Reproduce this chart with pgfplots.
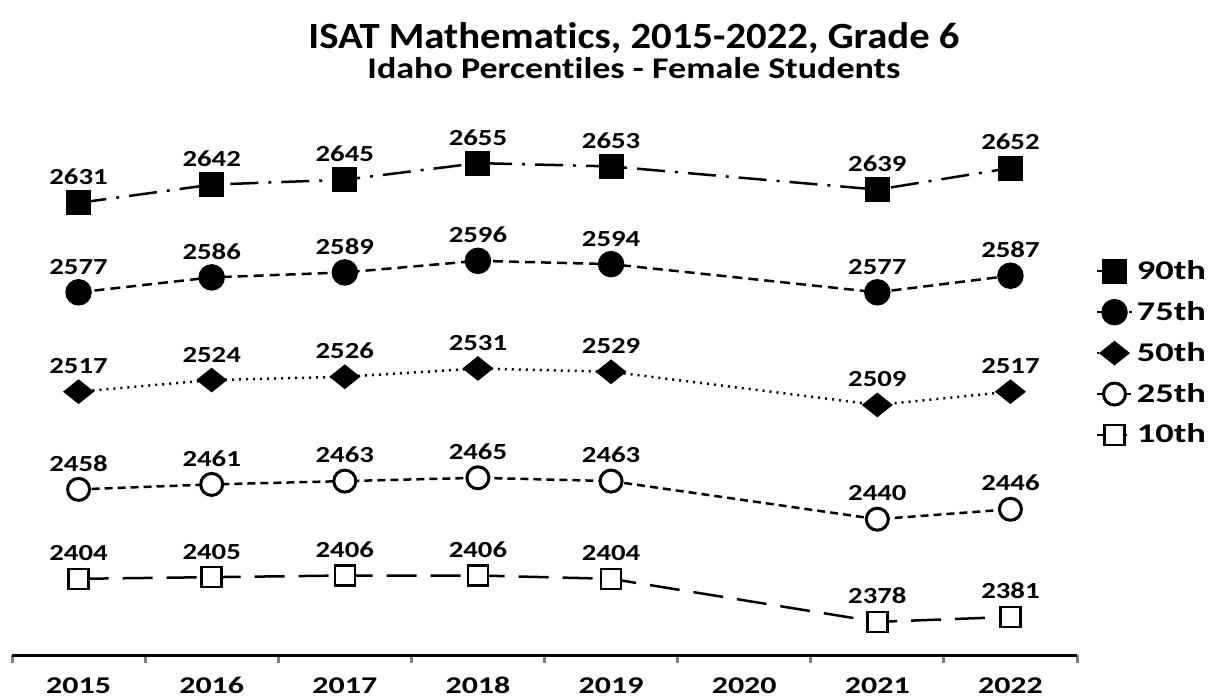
\documentclass[border=0pt]{standalone}
\usepackage{pgfplots}
\pgfplotsset{compat=1.18}
\usepackage{fontspec}
\setmainfont{Carlito}[Ligatures=NoCommon]
\newfontfamily\titleA{Carlito}[FakeStretch=1.1, Ligatures=NoCommon]
\newfontfamily\titleB{Carlito}[FakeStretch=1.2, Ligatures=NoCommon]
\newfontfamily\lblfont{Carlito}[FakeStretch=1.25]
\newfontfamily\tickfont{Carlito}[FakeStretch=1.33]
\newfontfamily\legfont{Carlito}[FakeStretch=1.35]
\begin{document}
\begin{tikzpicture}
\path[use as bounding box] (-6pt,-22.5pt) rectangle (606pt,327.5pt);
\begin{axis}[
  scale only axis,
  width=532.5pt, height=262.5pt,
  xmin=-0.5, xmax=7.5,
  ymin=2358, ymax=2675,
  axis x line*=bottom,
  axis y line=none,
  axis line style={line width=1.5pt},
  xtick={0,...,7},
  xticklabels={2015,2016,2017,2018,2019,2020,2021,2022},
  major tick length=0pt,
  minor xtick={-0.5,0.5,...,7.5},
  minor tick length=4pt,
  tick align=outside,
  minor tick style={line width=1.5pt},
  xticklabel style={font=\tickfont\fontsize{12}{14}\selectfont\bfseries, text height=8pt, text depth=0pt, yshift=-7.5pt},
  title={{\titleA\fontsize{18.5}{22}\selectfont ISAT Mathematics, 2015-2022, Grade 6}\\[1pt]{\titleB\fontsize{15}{18}\selectfont Idaho Percentiles - Female Students}},
  title style={at={(0.584,1)}, anchor=south, align=center, font=\bfseries, yshift=16pt},
  /pgf/number format/.cd, 1000 sep={}, assume math mode=true,
  /pgfplots/.cd,
  nodes near coords,
  every node near coord/.append style={font=\lblfont\fontsize{11.5}{13}\selectfont\bfseries, anchor=south, yshift=5pt, black},
  legend style={at={(1.012,0.575)}, anchor=west, draw=none, fill=none, font=\legfont\fontsize{13.5}{16}\selectfont\bfseries, row sep=5.5pt},
  legend cell align=left,
  clip=false,
]
\addplot[black, line width=1.25pt, dash pattern=on 14pt off 5pt on 1.5pt off 5pt, mark=square*, mark size=5.6pt, mark options={solid}] coordinates {
(0,2631) (1,2642) (2,2645) (3,2655) (4,2653) (6,2639) (7,2652)};
\addlegendentry{90th}
\addplot[black, line width=1.25pt, dash pattern=on 5pt off 3pt, mark=*, mark size=6pt, mark options={solid}] coordinates {
(0,2577) (1,2586) (2,2589) (3,2596) (4,2594) (6,2577) (7,2587)};
\addlegendentry{75th}
\addplot[black, line width=1.25pt, dash pattern=on 1pt off 2.5pt, mark=diamond*, mark size=6pt, mark options={solid, xscale=1.5, yscale=0.9}] coordinates {
(0,2517) (1,2524) (2,2526) (3,2531) (4,2529) (6,2509) (7,2517)};
\addlegendentry{50th}
\addplot[black, line width=1.25pt, dash pattern=on 4pt off 2.5pt, mark=*, mark size=5.5pt, mark options={solid, fill=white, line width=1.5pt}] coordinates {
(0,2458) (1,2461) (2,2463) (3,2465) (4,2463) (6,2440) (7,2446)};
\addlegendentry{25th}
\addplot[black, line width=1.25pt, dash pattern=on 15pt off 7pt, mark=square*, mark size=5pt, mark options={solid, fill=white, line width=1.25pt}] coordinates {
(0,2404) (1,2405) (2,2406) (3,2406) (4,2404) (6,2378) (7,2381)};
\addlegendentry{10th}
\end{axis}
\end{tikzpicture}
\end{document}
